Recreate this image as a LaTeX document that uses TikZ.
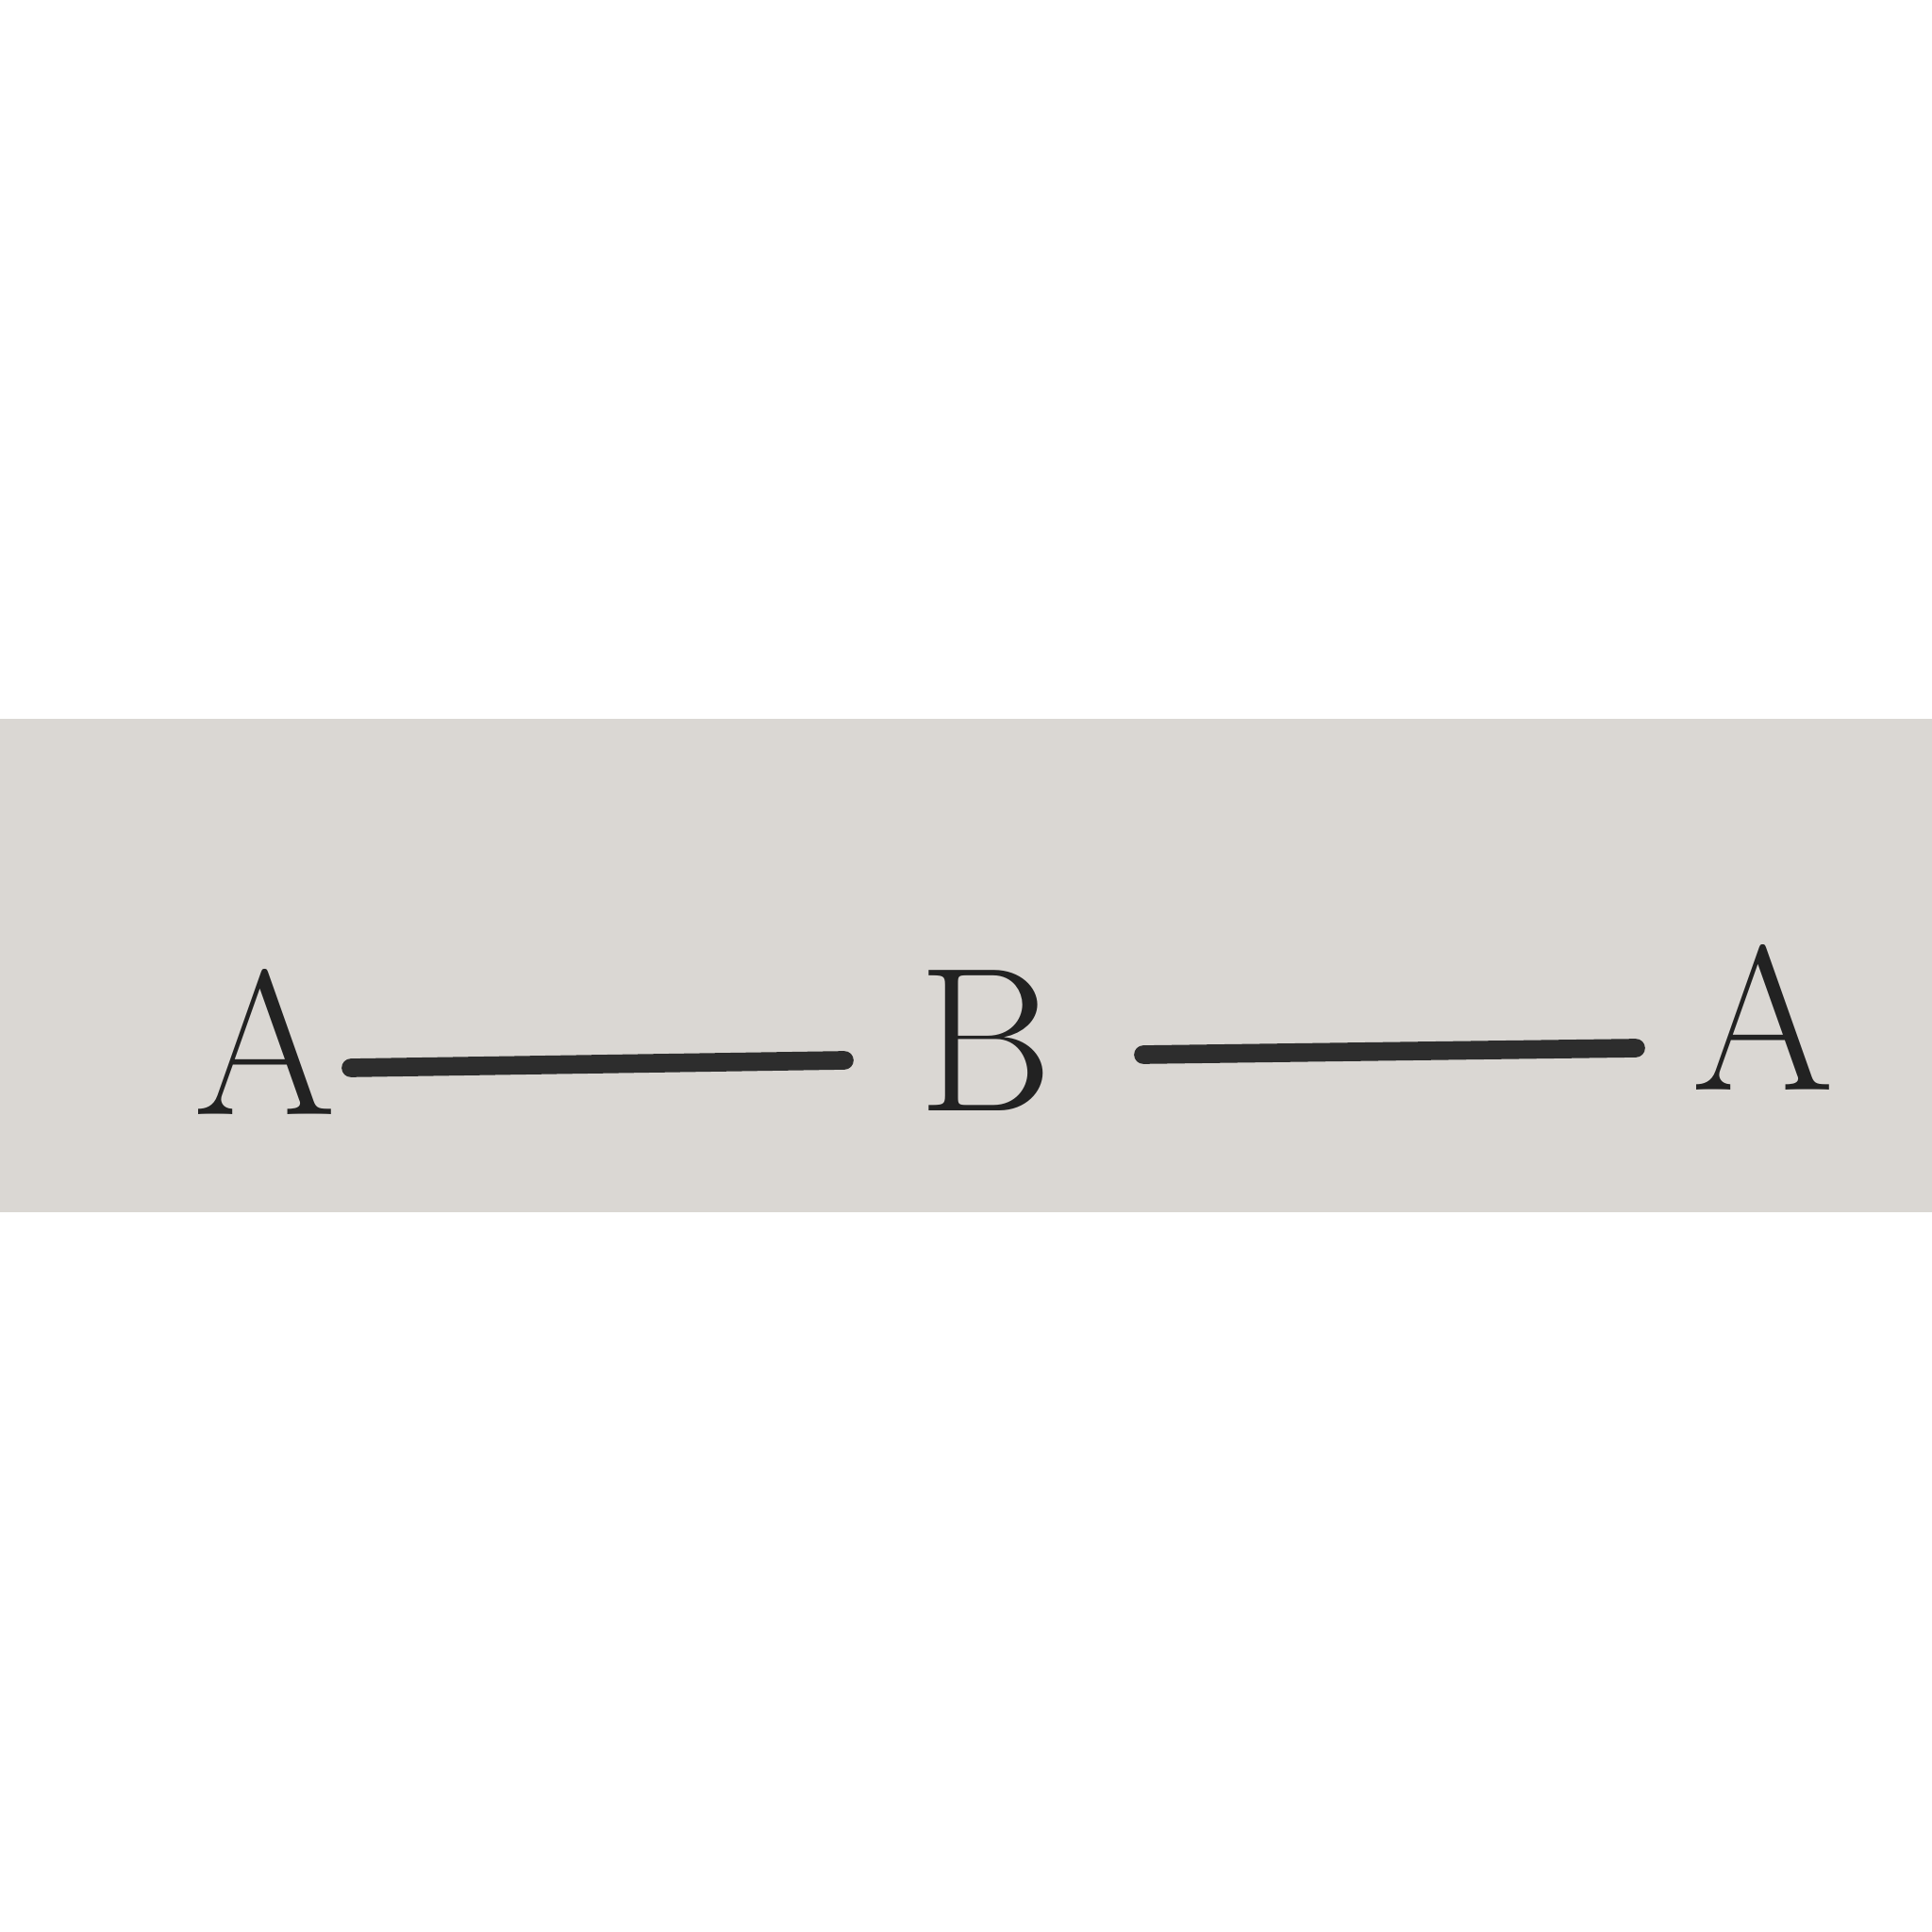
\documentclass[tikz,border=0pt]{standalone}
\definecolor{paper}{HTML}{DAD7D3}
\definecolor{ink}{HTML}{222222}
\begin{document}
\begin{tikzpicture}[
    letter/.style={anchor=base,inner sep=0pt,text=ink,font=\fontsize{62}{62}\selectfont},
    rod/.style={draw=ink!95,line width=5.6pt,line cap=round}]
      \useasboundingbox (0,0) rectangle (20.48,20.48);
      \fill[white] (0,0) rectangle (20.48,20.48);
      \fill[paper] (0,7.63) rectangle (20.48,12.86);
      \draw
        (2.81,8.66) node[letter] (a1){A}
        (10.45,8.70) node[letter] (b){B}
        (18.69,8.92) node[letter] (a2){A};
      \coordinate (l1s) at (3.72,9.16);
      \coordinate (l1e) at (8.95,9.24);
      \coordinate (l2s) at (12.12,9.30);
      \coordinate (l2e) at (17.34,9.37);
      \begin{scope}[rod]
        \draw (l1s) to (l1e);
        \draw (l2s) to (l2e);
      \end{scope}
    \end{tikzpicture}
\end{document}
